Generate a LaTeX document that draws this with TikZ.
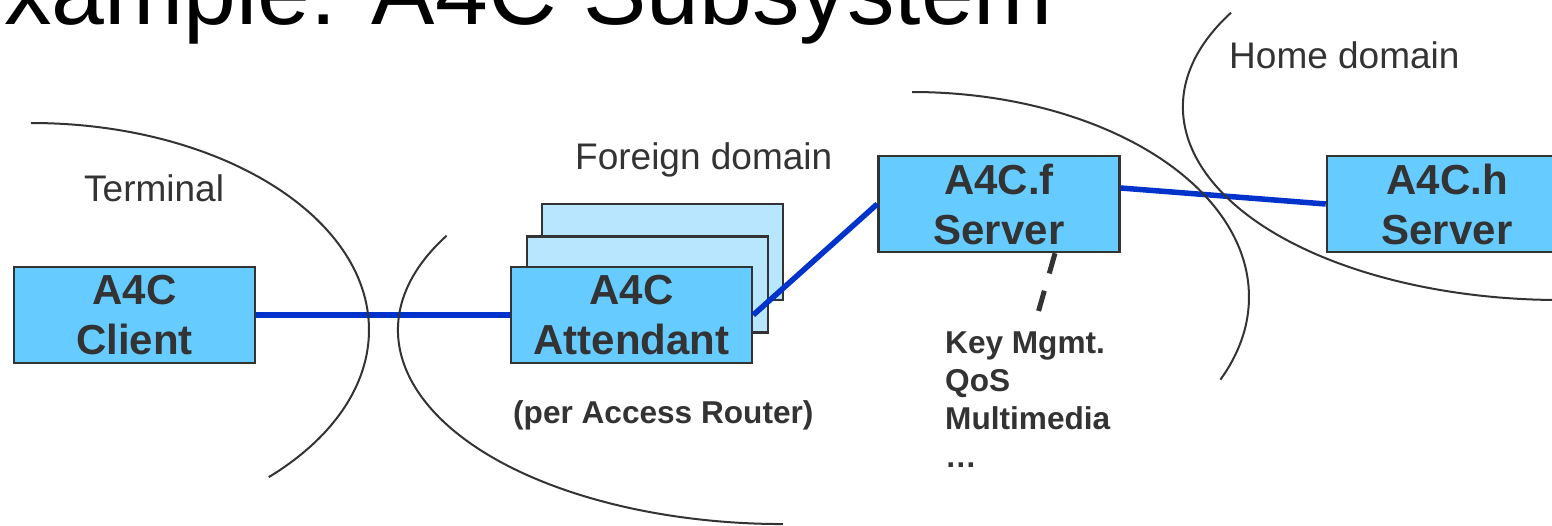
\documentclass[tikz,border=0pt]{standalone}
\usepackage{fontspec}
\setmainfont{Liberation Sans}
\definecolor{boxblue}{HTML}{66CCFF}
\definecolor{paleblue}{HTML}{B8E6FF}
\definecolor{wireblue}{HTML}{0033CC}
\definecolor{inkgray}{HTML}{333333}
\begin{document}
\begin{tikzpicture}[x=1pt,y=-1pt,
    agent/.style={draw=inkgray,line width=2.5pt,fill=boxblue,minimum width=241pt,minimum height=96pt,
                  inner sep=0pt,align=center,text=inkgray,font=\fontsize{42}{50}\selectfont\bfseries},
    copybox/.style={agent,fill=paleblue},
    wire/.style={wireblue,line width=5.5pt},
    bound/.style={inkgray,line width=2pt},
    areaname/.style={text=inkgray,inner sep=0pt,anchor=base west,font=\fontsize{37}{44}\selectfont},
    note/.style={text=inkgray,inner sep=0pt,font=\fontsize{31.6}{38}\selectfont\bfseries}]
  \useasboundingbox (0,0) rectangle (1552,525);
  \clip (0,0) rectangle (1552,525);

  \node[anchor=base west,inner sep=0pt,font=\fontsize{95}{100}\selectfont] (title) at (4,24) {xample: A4C Subsystem};

  % boxes
  \node[agent] (client) at (134.5,315) {A4C\\Client};
  \node[copybox] (att3) at (662.5,252) {};
  \node[copybox] (att2) at (647.5,284.5) {};
  \node[agent] (att) at (631.5,315) {A4C\\Attendant};
  \node[agent] (srv) at (999,204) {A4C.f\\Server};
  \node[agent,minimum width=240pt] (home) at (1447,204) {A4C.h\\Server};

  % links
  \draw[wire] (client.east) -- (att.west);
  \draw[wire] (att.east) -- (srv.west);
  \draw[wire] ([yshift=16pt]srv.east) -- (home.west);
  \coordinate (featend) at (1038,313);
  \draw[inkgray,line width=5pt,dash pattern=on 21pt off 18pt] ([xshift=56pt]srv.south) -- (featend);

  % domains
  \draw[bound] (31,123) arc[start angle=-90,end angle=45.3,x radius=338,y radius=207];
  \draw[bound] (446.6,235.7) arc[start angle=209.1,end angle=90,x radius=385,y radius=194];
  \draw[bound] (912,92) arc[start angle=-90,end angle=23.8,x radius=337,y radius=205];
  \draw[bound] (1231,12.7) arc[start angle=209.25,end angle=90,x radius=377,y radius=193];

  \node[areaname] (termname) at (84,201.7) {Terminal};
  \node[areaname] (foreignname) at (575,169) {Foreign domain};
  \node[areaname] (homename) at (1229,68.3) {Home domain};

  \node[note,anchor=base west] (router) at (513,423) {(per Access Router)};
  \node[note,anchor=north west,align=left] (feat) at (945,331.4) {Key Mgmt.\\QoS\\Multimedia\\…};
\end{tikzpicture}
\end{document}
